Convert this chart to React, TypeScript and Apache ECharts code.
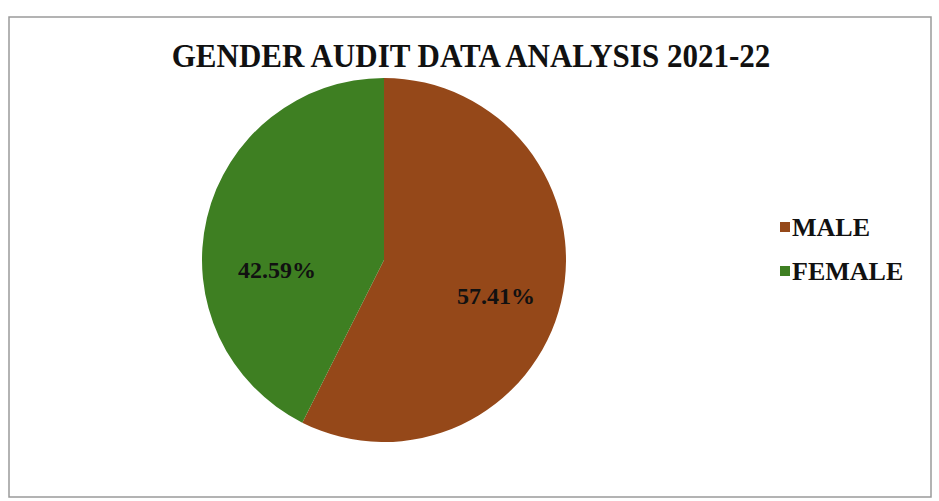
import React, { useEffect, useRef } from "react";
import * as echarts from "echarts";

const TITLE = "GENDER AUDIT DATA ANALYSIS 2021-22";
const categories = ["MALE", "FEMALE"];
const values = [57.41, 42.59];
const colors = ["#954819", "#3e7f22"];
const labelOffsets: number[][] = [[2, 10], [3, 36]];

export default function App() {
  const ref = useRef<HTMLDivElement>(null);
  useEffect(() => {
    document.body.style.margin = "0";
    const chart = echarts.init(ref.current!, null, { renderer: "svg" });
    const font = "'Liberation Serif', 'Times New Roman', serif";
    const baseData = categories.map((name, i) => ({
      name,
      value: values[i],
      itemStyle: { color: colors[i] },
    }));
    chart.setOption({
      animation: false,
      backgroundColor: "#ffffff",
      graphic: [
        {
          type: "rect",
          shape: { x: 9, y: 17, width: 922, height: 480 },
          style: { fill: "none", stroke: "#9a9a9a", lineWidth: 1.5 },
          silent: true,
          z: -1,
        },
        {
          type: "text",
          x: 471,
          y: 56,
          scaleX: 0.94,
          style: {
            text: TITLE,
            fontFamily: font,
            fontWeight: "bold",
            fontSize: 33,
            fill: "#111",
            align: "center",
            verticalAlign: "middle",
          },
        },
      ],
      legend: {
        orient: "vertical",
        left: 775,
        top: 207,
        icon: "rect",
        itemWidth: 10,
        itemHeight: 10,
        itemGap: 14,
        data: categories,
        textStyle: {
          fontFamily: font,
          fontWeight: "bold",
          fontSize: 26,
          color: "#111",
          lineHeight: 30,
          padding: [0, 0, 0, -3],
        },
      },
      series: [
        {
          type: "pie",
          center: [384, 260],
          radius: [0, 182],
          startAngle: 90,
          clockwise: true,
          label: { show: false },
          labelLine: { show: false },
          silent: true,
          data: baseData,
        },
        {
          type: "pie",
          center: [384, 260],
          radius: [0, 220],
          startAngle: 90,
          clockwise: true,
          silent: true,
          legendHoverLink: false,
          itemStyle: { color: "rgba(0,0,0,0)" },
          labelLine: { show: false },
          label: {
            show: true,
            position: "inside",
            formatter: (p: any) => p.value.toFixed(2) + "%",
            fontFamily: font,
            fontWeight: "bold",
            fontSize: 24,
            color: "#111",
          },
          data: categories.map((name, i) => ({
            name: name + " ",
            value: values[i],
            itemStyle: { color: "rgba(0,0,0,0)" },
            label: { offset: labelOffsets[i] },
          })),
        },
      ],
    });
    return () => chart.dispose();
  }, []);
  return (
    <div
      ref={ref}
      style={{ position: "absolute", left: 0, top: 0, width: 939, height: 501 }}
    />
  );
}
